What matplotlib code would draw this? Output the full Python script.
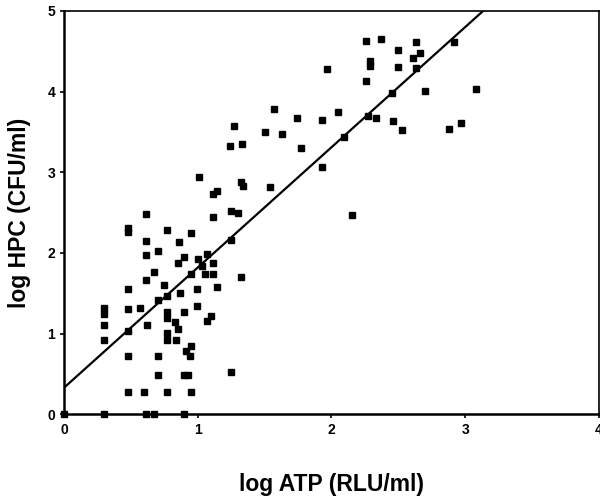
import numpy as np
import matplotlib.pyplot as plt

plt.rcParams['font.family'] = ['Liberation Sans', 'DejaVu Sans']

# log ATP vs log HPC
atp = [0.00, 0.30, 0.61, 0.67, 0.90,
       0.48, 0.60, 0.77, 0.95,
       0.70, 0.90, 0.93, 1.25,
       0.48, 0.70, 0.94, 0.91, 0.95,
       0.30, 0.77, 0.84, 0.77, 0.48, 0.85, 0.62, 0.30, 0.83, 1.07, 0.77, 1.10,
       0.30, 0.77, 0.90, 0.48, 0.30, 0.57, 0.99,
       0.70, 0.77, 0.87, 0.48, 0.99, 1.14, 0.75, 0.61, 1.32,
       1.05, 1.11, 0.95, 0.67, 0.85, 1.11, 1.03, 1.00, 0.90, 0.61, 1.07, 0.70,
       0.86, 0.61, 1.25, 0.95, 0.77, 0.48, 0.48, 0.61, 1.11, 1.25, 1.30, 2.15,
       1.11, 1.14, 1.32, 1.34, 1.01, 1.24, 1.33, 1.27,
       1.54, 1.50, 1.57, 1.63, 1.74, 1.77, 1.93, 1.93, 1.97, 2.05, 2.09,
       2.26, 2.37, 2.29, 2.29, 2.26, 2.27, 2.33, 2.45, 2.46, 2.53,
       2.50, 2.50, 2.63, 2.66, 2.61, 2.63, 2.70, 2.92, 3.08, 2.88, 2.97]
hpc = [0.00, 0.00, 0.00, 0.00, 0.00,
       0.28, 0.28, 0.28, 0.28,
       0.48, 0.48, 0.48, 0.52,
       0.72, 0.72, 0.72, 0.78, 0.85,
       0.92, 0.92, 0.92, 1.01, 1.03, 1.06, 1.10, 1.11, 1.14, 1.15, 1.19, 1.22,
       1.24, 1.27, 1.27, 1.30, 1.32, 1.32, 1.34,
       1.42, 1.46, 1.50, 1.55, 1.55, 1.58, 1.60, 1.67, 1.70,
       1.74, 1.74, 1.74, 1.76, 1.87, 1.87, 1.84, 1.92, 1.95, 1.97, 1.99, 2.02,
       2.13, 2.15, 2.16, 2.25, 2.28, 2.26, 2.31, 2.48, 2.45, 2.52, 2.50, 2.47,
       2.73, 2.77, 2.88, 2.83, 2.94, 3.33, 3.35, 3.57,
       2.82, 3.50, 3.78, 3.47, 3.67, 3.30, 3.65, 3.06, 4.28, 3.75, 3.44,
       4.63, 4.65, 4.38, 4.32, 4.13, 3.70, 3.67, 3.98, 3.63, 3.53,
       4.51, 4.31, 4.62, 4.48, 4.42, 4.29, 4.01, 4.62, 4.03, 3.54, 3.61]

# regression line
intercept = 0.33
slope = 1.49

fig = plt.figure(figsize=(6.0, 4.99), dpi=100)
ax = fig.add_axes([0.107, 0.170, 0.891, 0.808])

ax.plot(atp, hpc, 's', color='black', markersize=3.8, clip_on=False, zorder=3)
xl = np.array([0.0, 4.0])
ax.plot(xl, intercept + slope * xl, color='black', linewidth=1.6)

ax.set_xlim(0, 4)
ax.set_ylim(0, 5)
ax.set_xticks([0, 1, 2, 3, 4])
ax.set_yticks([0, 1, 2, 3, 4, 5])
ax.tick_params(direction='out', length=3, width=1.2, labelsize=10)
for lab in ax.get_xticklabels() + ax.get_yticklabels():
    lab.set_fontweight('bold')
for s in ax.spines.values():
    s.set_linewidth(1.2)
ax.spines['left'].set_linewidth(1.8)
ax.spines['bottom'].set_linewidth(1.8)

ax.set_xlabel('log ATP (RLU/ml)', fontsize=16.5, fontweight='bold', labelpad=26)
ax.set_ylabel('log HPC (CFU/ml)', fontsize=16.5, fontweight='bold', labelpad=12)

fig.savefig('out.png', dpi=100)
